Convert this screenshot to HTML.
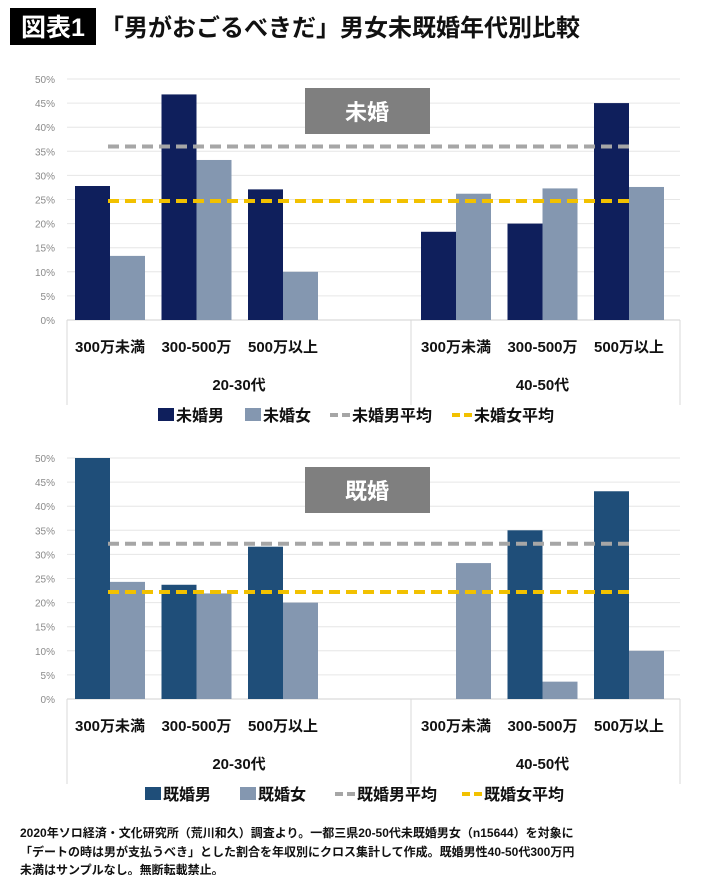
<!DOCTYPE html>
<html><head><meta charset="utf-8">
<style>
body{margin:0;background:#fff;font-family:"Liberation Sans","Noto Sans CJK JP",sans-serif;}
#wrap{position:relative;width:710px;height:875px;overflow:hidden;}
svg text{font-family:"Liberation Sans","Noto Sans CJK JP",sans-serif;}
</style></head>
<body>
<div id="wrap">
<svg id="svg" width="710" height="875">
  <rect x="10" y="8" width="86" height="37" fill="#000"/>
  <text x="53" y="36" fill="#fff" font-size="25" font-weight="bold" text-anchor="middle">図表1</text>
  <text x="100" y="36" fill="#111" font-size="24" font-weight="bold">「男がおごるべきだ」男女未既婚年代別比較</text>
  <text x="20" y="837" font-size="12" font-weight="bold" fill="#111">2020年ソロ経済・文化研究所（荒川和久）調査より。一都三県20-50代未既婚男女（n15644）を対象に</text>
  <text x="20" y="856" font-size="12" font-weight="bold" fill="#111">「デートの時は男が支払うべき」とした割合を年収別にクロス集計して作成。既婚男性40-50代300万円</text>
  <text x="20" y="874" font-size="12" font-weight="bold" fill="#111">未満はサンプルなし。無断転載禁止。</text>
</svg>
</div>
<script>
const categories = ["300万未満","300-500万","500万以上","","300万未満","300-500万","500万以上"];
const groups = ["20-30代","40-50代"];
const ticks = [0,5,10,15,20,25,30,35,40,45,50];
const unmarriedMale = [27.8,46.8,27.1,null,18.3,20.0,45.0];
const unmarriedFemale = [13.3,33.2,10.0,null,26.2,27.3,27.6];
const unmarriedAvg = [36.0,24.7];
const marriedMale = [50.0,23.7,31.6,null,null,35.0,43.1];
const marriedFemale = [24.3,21.9,20.0,null,28.2,3.6,10.0];
const marriedAvg = [32.2,22.2];

const NS="http://www.w3.org/2000/svg";
const svg=document.getElementById('svg');
function mk(tag,attrs,parent){const e=document.createElementNS(NS,tag);for(const k in attrs)e.setAttribute(k,attrs[k]);(parent||svg).appendChild(e);return e;}

function chart(prefix,top,title,male,female,avg,maleColor,names){
  const g=mk('g',{});
  
  
  const x0=67,x1=680,y0=top+241,slot=86.5;
  const y=v=>y0-v/50*241;
  const x=i=>x0+i*slot;
  ticks.forEach(t=>{
    const l=mk('line',{x1:x0,x2:x1,y1:y(t),y2:y(t),stroke:t===0?'#d0d0d0':'#e6e6e6','stroke-width':1},g);
    
    
    const tx=mk('text',{x:55,y:y(t)+4,'font-size':10,fill:'#8a8a8a','text-anchor':'end'},g);
    tx.textContent=t+'%';
    
    
  });
  const b=mk('rect',{x:305,y:top+9,width:125,height:46,fill:'#7f7f7f'},g);
  
  
  const bt=mk('text',{x:367,y:top+41,'font-size':22,'font-weight':'bold',fill:'#fff','text-anchor':'middle'},g);
  bt.textContent=title;
  
  
  categories.forEach((c,i)=>{
    if(male[i]!=null){
      const r=mk('rect',{x:x(i)+8,y:y(male[i]),width:35,height:y0-y(male[i]),fill:maleColor},g);
      
      
    }
    if(female[i]!=null){
      const r=mk('rect',{x:x(i)+43,y:y(female[i]),width:35,height:y0-y(female[i]),fill:'#8497b0'},g);
      
      
    }
    if(c){
      const t=mk('text',{x:x(i)+43,y:y0+32,'font-size':15,'font-weight':'bold',fill:'#111','text-anchor':'middle'},g);
      t.textContent=c;
      
      
    }
  });
  const ax1=x(0)+41,ax2=x(6)+43;
  const lm=mk('line',{x1:ax1,x2:ax2,y1:y(avg[0]),y2:y(avg[0]),stroke:'#a6a6a6','stroke-width':4,'stroke-dasharray':'11,6'},g);
  
  
  const lf=mk('line',{x1:ax1,x2:ax2,y1:y(avg[1]),y2:y(avg[1]),stroke:'#f2c100','stroke-width':4,'stroke-dasharray':'11,6'},g);
  
  
  [x0,411,x1].forEach(xx=>{
    const l=mk('line',{x1:xx,x2:xx,y1:y0,y2:y0+85,stroke:'#d9d9d9','stroke-width':1},g);
    
    
  });
  groups.forEach((gr,i)=>{
    const t=mk('text',{x:i===0?239:x(5)+43,y:y0+70,'font-size':15,'font-weight':'bold',fill:'#111','text-anchor':'middle'},g);
    t.textContent=gr;
    
    
  });
  const ly=y0+95;
  const lx=prefix==='unmarried'?[158,245,330,452]:[145,240,335,462];
  const items=[['rect',maleColor],['rect','#8497b0'],['line','#a6a6a6'],['line','#f2c100']];
  items.forEach((it,i)=>{
    let m;
    if(it[0]==='rect'){m=mk('rect',{x:lx[i],y:ly-7,width:16,height:13,fill:it[1]},g);}
    else{m=mk('line',{x1:lx[i],x2:lx[i]+22,y1:ly,y2:ly,stroke:it[1],'stroke-width':4,'stroke-dasharray':'8,4'},g);}
    
    
    const t=mk('text',{x:lx[i]+(it[0]==='rect'?18:22),y:ly+6,'font-size':16,'font-weight':'bold',fill:'#111'},g);
    t.textContent=names[i];
    
    
  });
}
chart('unmarried',79,'未婚',unmarriedMale,unmarriedFemale,unmarriedAvg,'#0f1f5c',['未婚男','未婚女','未婚男平均','未婚女平均']);
chart('married',458,'既婚',marriedMale,marriedFemale,marriedAvg,'#1f4e79',['既婚男','既婚女','既婚男平均','既婚女平均']);
</script>
</body></html>
